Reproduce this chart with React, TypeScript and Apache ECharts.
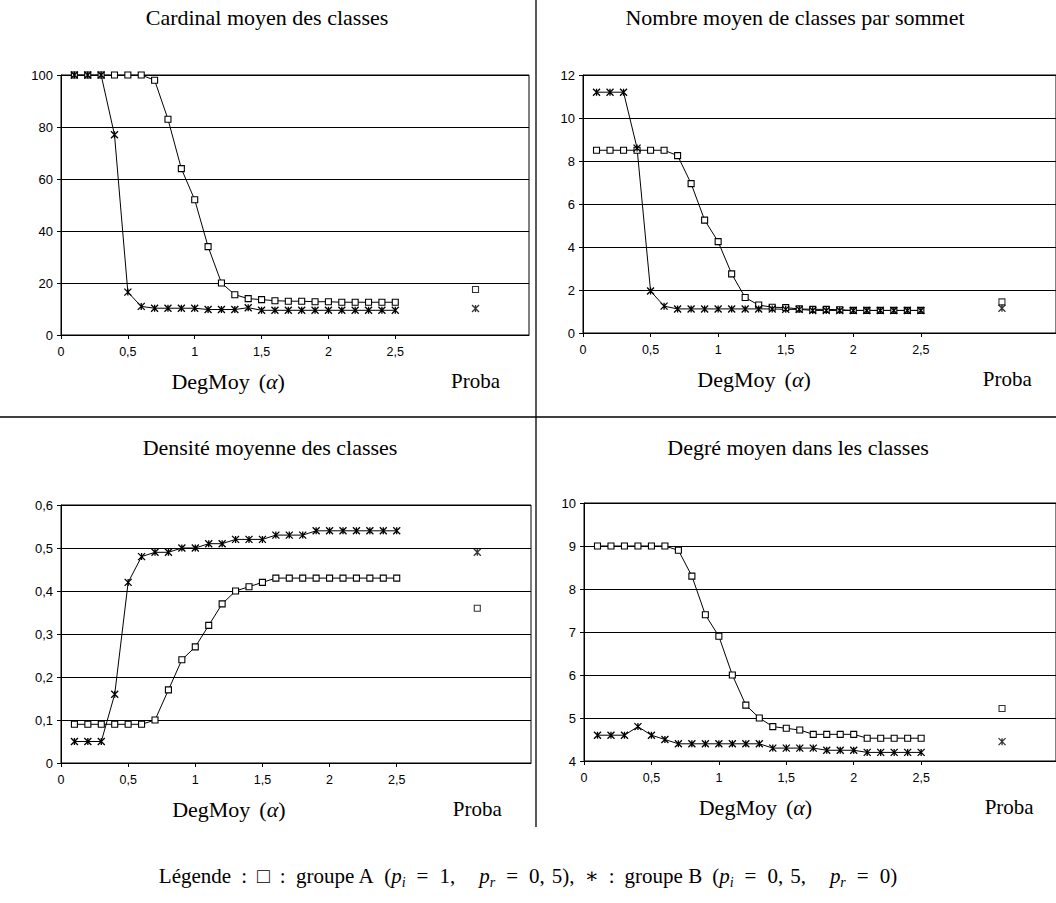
import React, { useEffect, useRef } from "react";
import * as echarts from "echarts";

// ---- data ----
const alphaValues = [0.1, 0.2, 0.3, 0.4, 0.5, 0.6, 0.7, 0.8, 0.9, 1.0, 1.1, 1.2, 1.3, 1.4, 1.5, 1.6, 1.7, 1.8, 1.9, 2.0, 2.1, 2.2, 2.3, 2.4, 2.5];
const xTickValues = [0, 0.5, 1, 1.5, 2, 2.5];
const probaPosition = 3.1;

const cardinalA = [100, 100, 100, 100, 100, 100, 98, 83, 64, 52, 34, 20, 15.5, 14, 13.6, 13.2, 13, 13, 12.8, 12.8, 12.6, 12.6, 12.6, 12.6, 12.6];
const cardinalB = [100, 100, 100, 77, 16.5, 11, 10.3, 10.3, 10.3, 10.3, 9.8, 9.8, 9.8, 10.5, 9.5, 9.5, 9.5, 9.5, 9.5, 9.5, 9.5, 9.5, 9.5, 9.5, 9.5];
const cardinalProba = [17.5, 10.2];

const nombreA = [8.5, 8.5, 8.5, 8.5, 8.5, 8.5, 8.25, 6.95, 5.25, 4.25, 2.75, 1.65, 1.3, 1.2, 1.18, 1.12, 1.1, 1.1, 1.08, 1.05, 1.05, 1.05, 1.05, 1.05, 1.05];
const nombreB = [11.2, 11.2, 11.2, 8.6, 1.95, 1.25, 1.12, 1.12, 1.12, 1.12, 1.12, 1.12, 1.12, 1.12, 1.1, 1.1, 1.05, 1.05, 1.05, 1.05, 1.05, 1.05, 1.05, 1.05, 1.05];
const nombreProba = [1.45, 1.15];

const densiteA = [0.09, 0.09, 0.09, 0.09, 0.09, 0.09, 0.1, 0.17, 0.24, 0.27, 0.32, 0.37, 0.4, 0.41, 0.42, 0.43, 0.43, 0.43, 0.43, 0.43, 0.43, 0.43, 0.43, 0.43, 0.43];
const densiteB = [0.05, 0.05, 0.05, 0.16, 0.42, 0.48, 0.49, 0.49, 0.5, 0.5, 0.51, 0.51, 0.52, 0.52, 0.52, 0.53, 0.53, 0.53, 0.54, 0.54, 0.54, 0.54, 0.54, 0.54, 0.54];
const densiteProba = [0.36, 0.49];

const degreA = [9, 9, 9, 9, 9, 9, 8.9, 8.3, 7.4, 6.9, 6.0, 5.3, 5.0, 4.8, 4.76, 4.72, 4.62, 4.62, 4.62, 4.62, 4.53, 4.53, 4.53, 4.53, 4.53];
const degreB = [4.6, 4.6, 4.6, 4.8, 4.6, 4.5, 4.4, 4.4, 4.4, 4.4, 4.4, 4.4, 4.4, 4.3, 4.3, 4.3, 4.3, 4.25, 4.25, 4.25, 4.2, 4.2, 4.2, 4.2, 4.2];
const degreProba = [5.22, 4.45];

const titles = [
  "Cardinal moyen des classes",
  "Nombre moyen de classes par sommet",
  "Densité moyenne des classes",
  "Degré moyen dans les classes",
];
const xAxisName = "DegMoy";
const probaLabel = "Proba";

// ---- layout ----
const SERIF = "'Liberation Serif', 'DejaVu Serif', serif";
const SANS = "'Liberation Sans', Arial, sans-serif";

const panels = [
  { title: titles[0], a: cardinalA, b: cardinalB, proba: cardinalProba, min: 0, max: 100, interval: 20,
    grid: { left: 61, top: 75, width: 468, height: 260 }, titleX: 267, titleY: 17 },
  { title: titles[1], a: nombreA, b: nombreB, proba: nombreProba, min: 0, max: 12, interval: 2,
    grid: { left: 583, top: 75, width: 479, height: 258 }, titleX: 795, titleY: 17 },
  { title: titles[2], a: densiteA, b: densiteB, proba: densiteProba, min: 0, max: 0.6, interval: 0.1,
    grid: { left: 61, top: 505, width: 470, height: 258 }, titleX: 270, titleY: 447 },
  { title: titles[3], a: degreA, b: degreB, proba: degreProba, min: 4, max: 10, interval: 1,
    grid: { left: 584, top: 503, width: 480, height: 258 }, titleX: 798, titleY: 447 },
];

const STAR = "path://M0 0L10 10M10 0L0 10M5 0L5 10";

export default function App() {
  const ref = useRef<HTMLDivElement>(null);
  useEffect(() => {
    if (!ref.current) return;
    const chart = echarts.init(ref.current, null, { renderer: "svg" });

    const fmt = (v: number) => String(Math.round(v * 1000) / 1000).replace(".", ",");

    const grids: any[] = [];
    const xAxes: any[] = [];
    const yAxes: any[] = [];
    const series: any[] = [];
    const graphics: any[] = [];

    const squareStyle = { color: "#fff", borderColor: "#000", borderWidth: 1.1 };
    const starStyle = { color: "#000", borderColor: "#000", borderWidth: 1.3 };

    panels.forEach((p, i) => {
      grids.push({ ...p.grid, show: true, borderColor: "#000", borderWidth: 1, backgroundColor: "transparent" });
      xAxes.push({
        type: "value", gridIndex: i, min: 0, max: 3.5, interval: 0.5,
        axisLine: { show: true, lineStyle: { color: "#000", width: 1 } },
        axisTick: { show: true, length: 4, customValues: xTickValues, lineStyle: { color: "#000" } },
        axisLabel: { customValues: xTickValues, formatter: fmt, color: "#000", fontFamily: SANS, fontSize: 12.5, margin: 10 },
        splitLine: { show: false },
      });
      yAxes.push({
        type: "value", gridIndex: i, min: p.min, max: p.max, interval: p.interval,
        axisLine: { show: true, lineStyle: { color: "#000", width: 1 } },
        axisTick: { show: true, length: 4, lineStyle: { color: "#000" } },
        axisLabel: { formatter: fmt, color: "#000", fontFamily: SANS, fontSize: 13, margin: 8 },
        splitLine: { show: true, lineStyle: { color: "#000", width: 1 } },
      });
      series.push({
        type: "line", xAxisIndex: i, yAxisIndex: i, silent: true,
        data: alphaValues.map((x, k) => [x, p.a[k]]),
        symbol: "rect", symbolSize: 6, showSymbol: true,
        lineStyle: { color: "#000", width: 1 }, itemStyle: squareStyle, z: 3,
      });
      series.push({
        type: "line", xAxisIndex: i, yAxisIndex: i, silent: true,
        data: alphaValues.map((x, k) => [x, p.b[k]]),
        symbol: STAR, symbolSize: 7, showSymbol: true,
        lineStyle: { color: "#000", width: 1 }, itemStyle: starStyle, z: 3,
      });
      series.push({
        type: "scatter", xAxisIndex: i, yAxisIndex: i, silent: true,
        data: [[probaPosition, p.proba[0]]], symbol: "rect", symbolSize: 6, itemStyle: squareStyle, z: 4,
      });
      series.push({
        type: "scatter", xAxisIndex: i, yAxisIndex: i, silent: true,
        data: [[probaPosition, p.proba[1]]], symbol: STAR, symbolSize: 7, itemStyle: starStyle, z: 4,
      });

      graphics.push({
        type: "text", x: p.titleX, y: p.titleY,
        style: { text: p.title, font: `22px ${SERIF}`, fill: "#000", align: "center", verticalAlign: "middle" },
      });
      const unit = p.grid.width / 3.5;
      const labelY = p.grid.top + p.grid.height + 46;
      graphics.push({
        type: "text", x: p.grid.left + 1.25 * unit, y: labelY,
        style: {
          text: `{n|${xAxisName}}{g| }{n|(}{a|α}{n|)}`, align: "center", verticalAlign: "middle",
          rich: {
            n: { font: `22px ${SERIF}`, fill: "#000" },
            a: { font: `italic 22px ${SERIF}`, fill: "#000" },
            g: { font: `22px ${SERIF}`, width: 9 },
          },
        },
      });
      graphics.push({
        type: "text", x: p.grid.left + probaPosition * unit, y: labelY,
        style: { text: probaLabel, font: `21px ${SERIF}`, fill: "#000", align: "center", verticalAlign: "middle" },
      });
    });

    // dividers
    graphics.push({ type: "line", shape: { x1: 536, y1: 0, x2: 536, y2: 827 }, style: { stroke: "#000", lineWidth: 1.3 } });
    graphics.push({ type: "line", shape: { x1: 0, y1: 417, x2: 1056, y2: 417 }, style: { stroke: "#000", lineWidth: 1.3 } });

    // legend
    const legendText =
      "{n|Légende}{w| }{n|:}{w| }{n|□}{w| }{n|:}{w| }{n|groupe A}{w| }{n|(}{i|p}{s|i}{e| }{n|=}{e| }{n|1,}{q| }{i|p}{s|r}{e| }{n|=}{e| }{n|0,}{c| }{n|5),}{w| }{n|∗}{w| }{n|:}{w| }{n|groupe B}{w| }{n|(}{i|p}{s|i}{e| }{n|=}{e| }{n|0,}{c| }{n|5,}{q| }{i|p}{s|r}{e| }{n|=}{e| }{n|0)}";
    graphics.push({
      type: "text", x: 528, y: 876,
      style: {
        text: legendText,
        align: "center", verticalAlign: "middle",
        rich: {
          n: { font: `21px ${SERIF}`, fill: "#000", lineHeight: 26 },
          i: { font: `italic 21px ${SERIF}`, fill: "#000", lineHeight: 26 },
          s: { font: `italic 14px ${SERIF}`, fill: "#000", lineHeight: 15, verticalAlign: "bottom" },
          w: { font: `21px ${SERIF}`, width: 10 },
          e: { font: `21px ${SERIF}`, width: 11 },
          q: { font: `21px ${SERIF}`, width: 24 },
          c: { font: `21px ${SERIF}`, width: 7 },
        },
      },
    });

    chart.setOption({
      animation: false,
      backgroundColor: "#fff",
      grid: grids,
      xAxis: xAxes,
      yAxis: yAxes,
      series,
      graphic: graphics,
    });
    return () => chart.dispose();
  }, []);

  return <div ref={ref} style={{ position: "fixed", left: 0, top: 0, width: 1056, height: 903 }} />;
}
